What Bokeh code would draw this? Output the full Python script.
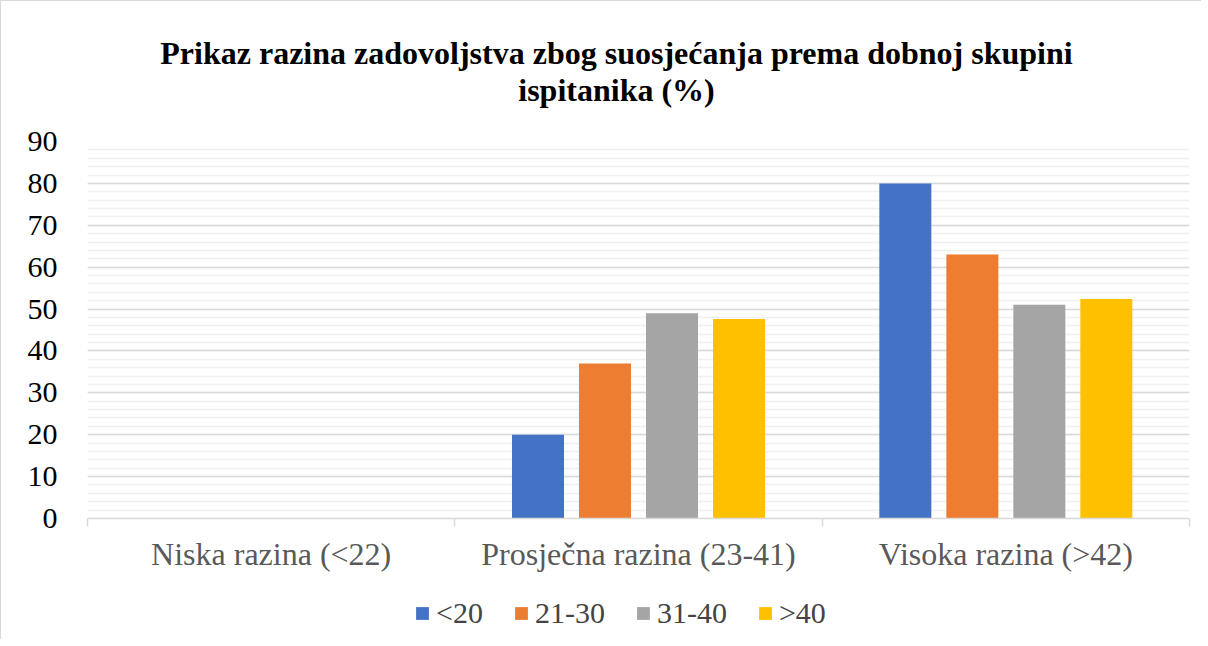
from bokeh.plotting import figure
from bokeh.layouts import column
from bokeh.models import (ColumnDataSource, FixedTicker, SingleIntervalTicker, Legend, LegendItem,
                          Label, Range1d)
from bokeh.embed import file_html
from bokeh.resources import INLINE

# ---- data ----
categories = ["Niska razina (<22)", "Prosječna razina (23-41)", "Visoka razina (>42)"]
series_names = ["<20", "21-30", "31-40", ">40"]
s_lt20 = [0, 20, 80]
s_21_30 = [0, 37, 63]
s_31_40 = [0, 49, 51]
s_gt40 = [0, 47.6, 52.4]
colors = ["#4472C4", "#ED7D31", "#A5A5A5", "#FFC000"]
y_ticks_step = 10

title_lines = ["Prikaz razina zadovoljstva zbog suosjećanja prema dobnoj skupini",
               "ispitanika (%)"]

FONT = "Liberation Serif"
W = 1200
FRAME_L, FRAME_R = 86, 1188   # horizontal extent of the (aligned) plot frames in page pixels

centers = [i + 0.5 for i in range(len(categories))]
series = [s_lt20, s_21_30, s_31_40, s_gt40]

# ---- title strip (x range expressed in page pixels of the aligned frame) ----
TH = 120
pt = figure(width=W, height=TH, output_backend="svg", toolbar_location=None,
            x_axis_type=None, y_axis_type=None,
            x_range=Range1d(FRAME_L, FRAME_R), y_range=Range1d(TH, 0),
            min_border_left=0, min_border_right=0, min_border_top=0, min_border_bottom=0)
pt.outline_line_color = None
pt.xgrid.visible = False
pt.ygrid.visible = False
for line, yc in zip(title_lines, [51, 88]):
    pt.add_layout(Label(x=615, y=yc, text=line, text_align="center", text_baseline="middle",
                        text_font=FONT, text_font_size="32px", text_font_style="bold",
                        text_color="black"))

# ---- main chart ----
p = figure(width=W, height=465, output_backend="svg", toolbar_location=None,
           x_range=Range1d(0, len(categories)), y_range=Range1d(0, 90),
           min_border_left=FRAME_L, min_border_right=W - FRAME_R + 0, min_border_top=20,
           min_border_bottom=68)
p.outline_line_color = None
p.background_fill_color = "white"
p.border_fill_color = "white"

step = 0.1824
bw = 0.1416
for i, vals in enumerate(series):
    off = (i - 1.5) * step
    src = ColumnDataSource(dict(x=[c + off for c in centers], top=vals))
    p.vbar(x="x", top="top", width=bw, source=src, color=colors[i], line_color=None)

p.xaxis.ticker = FixedTicker(ticks=centers, minor_ticks=list(range(len(categories) + 1)))
p.xaxis.major_label_overrides = {c: lab for c, lab in zip(centers, categories)}
p.xaxis.major_tick_out = 0
p.xaxis.major_tick_in = 0
p.xaxis.minor_tick_out = 8
p.xaxis.minor_tick_in = 0
p.xaxis.minor_tick_line_color = "#d9d9d9"
p.xaxis.minor_tick_line_width = 1.5
p.xaxis.axis_line_color = "#d9d9d9"
p.xaxis.axis_line_width = 1.5
p.xaxis.major_label_text_font = FONT
p.xaxis.major_label_text_font_size = "32px"
p.xaxis.major_label_text_color = "#595959"
p.xaxis.major_label_standoff = 9
p.xgrid.visible = False

p.yaxis.ticker = SingleIntervalTicker(interval=y_ticks_step, num_minor_ticks=5)
p.yaxis.axis_line_color = None
p.yaxis.major_tick_line_color = None
p.yaxis.minor_tick_line_color = None
p.yaxis.major_label_text_font = FONT
p.yaxis.major_label_text_font_size = "30px"
p.yaxis.major_label_text_color = "black"
p.yaxis.major_label_standoff = 24
p.ygrid.grid_line_color = "#d9d9d9"
p.ygrid.grid_line_width = 1.5
p.ygrid.minor_grid_line_color = "#f0f0f0"
p.ygrid.minor_grid_line_width = 1.5

# ---- legend strip ----
pl = figure(width=W, height=53, output_backend="svg", toolbar_location=None,
            x_axis_type=None, y_axis_type=None, x_range=Range1d(0, 1), y_range=Range1d(0, 1),
            min_border_left=0, min_border_right=0, min_border_top=0, min_border_bottom=0)
pl.outline_line_color = None
pl.xgrid.visible = False
pl.ygrid.visible = False
leg_renderers = [pl.vbar(x=[-10], top=[0], width=0.1, color=c, line_color=None) for c in colors]
legend = Legend(items=[LegendItem(label=n, renderers=[r]) for n, r in zip(series_names, leg_renderers)],
                orientation="horizontal", location=(413 - FRAME_L, 9),
                label_text_font=FONT, label_text_font_size="30px",
                glyph_width=16, glyph_height=16, label_standoff=6, spacing=30,
                border_line_color=None, background_fill_alpha=0, padding=0, margin=0)
pl.add_layout(legend)

layout = column(pt, p, pl, spacing=0)
layout.styles = {"border-left": "1px solid #d9d9d9", "border-top": "1px solid #d9d9d9"}
open("out.html", "w").write(file_html(layout, INLINE))
